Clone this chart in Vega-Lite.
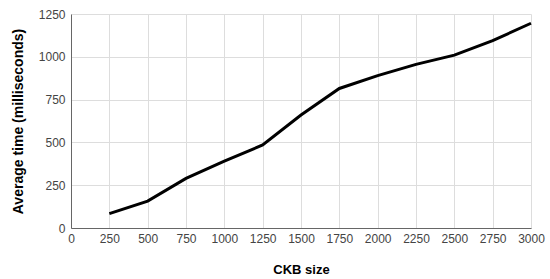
{
  "$schema": "https://vega.github.io/schema/vega-lite/v6.json",
  "autosize": "none",
  "width": 460,
  "height": 214,
  "padding": {"left": 71, "top": 14, "right": 19, "bottom": 51},
  "background": "white",
  "data": {"values": [
    {"size": 250, "time": 84},
    {"size": 500, "time": 157},
    {"size": 750, "time": 290},
    {"size": 1000, "time": 390},
    {"size": 1250, "time": 485},
    {"size": 1500, "time": 660},
    {"size": 1750, "time": 815},
    {"size": 2000, "time": 890},
    {"size": 2250, "time": 956},
    {"size": 2500, "time": 1010},
    {"size": 2750, "time": 1094},
    {"size": 3000, "time": 1196}
  ]},
  "config": {
    "view": {"stroke": null},
    "axis": {
      "labelFont": "Liberation Sans",
      "labelFontSize": 12,
      "labelColor": "#444",
      "titleFont": "Liberation Sans",
      "titleFontSize": 13,
      "titleFontWeight": "bold",
      "titleColor": "#000",
      "gridColor": "#dddddd",
      "domainColor": "#666",
      "ticks": false,
      "format": "d"
    }
  },
  "mark": {"type": "line", "color": "#000", "strokeWidth": 3},
  "encoding": {
    "x": {
      "field": "size", "type": "quantitative", "title": "CKB size",
      "scale": {"domain": [0, 3000], "nice": false},
      "axis": {"values": [0,250,500,750,1000,1250,1500,1750,2000,2250,2500,2750,3000], "labelPadding": 5, "titlePadding": 19, "labelFlush": false, "format": "d"}
    },
    "y": {
      "field": "time", "type": "quantitative", "title": "Average time (milliseconds)",
      "scale": {"domain": [0, 1250], "nice": false},
      "axis": {"values": [0,250,500,750,1000,1250], "labelPadding": 6, "titlePadding": 13, "titleFontSize": 14, "format": "d"}
    }
  }
}
